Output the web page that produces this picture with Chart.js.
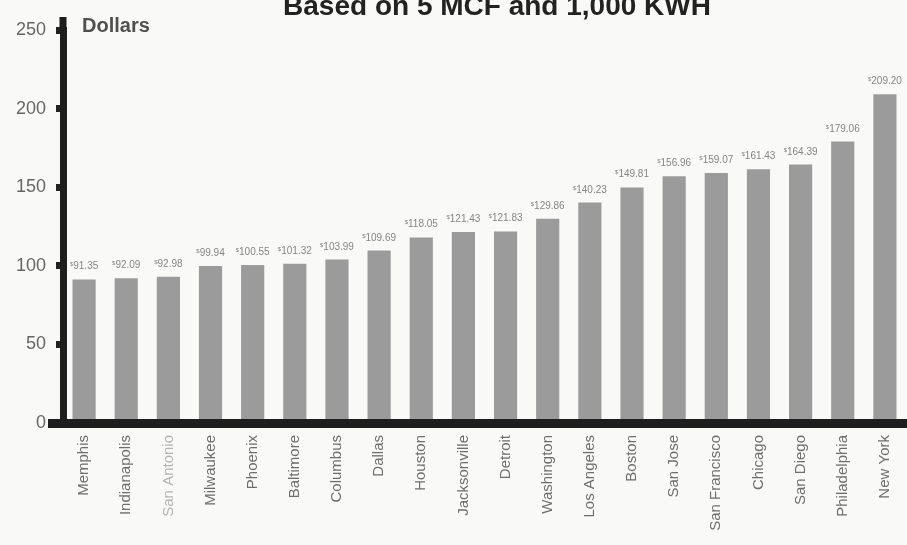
<!DOCTYPE html>
<html>
<head>
<meta charset="utf-8">
<script src="https://cdn.jsdelivr.net/npm/chart.js@4"></script>
<style>
    html, body { margin: 0; padding: 0; background: #f9f9f8; overflow: hidden; }
    canvas { display: block; }
</style>
</head>
<body>
<canvas id="CostChart" width="915" height="545"></canvas>
<script>
const city_labels = [
    'Memphis',
    'Indianapolis',
    'San Antonio',
    'Milwaukee',
    'Phoenix',
    'Baltimore',
    'Columbus',
    'Dallas',
    'Houston',
    'Jacksonville',
    'Detroit',
    'Washington',
    'Los Angeles',
    'Boston',
    'San Jose',
    'San Francisco',
    'Chicago',
    'San Diego',
    'Philadelphia',
    'New York'
];
const cost_values = [
    91.35, 92.09, 92.98, 99.94, 100.55, 101.32, 103.99, 109.69, 118.05, 121.43,
    121.83, 129.86, 140.23, 149.81, 156.96, 159.07, 161.43, 164.39, 179.06, 209.20
];
const y_ticks = [0, 50, 100, 150, 200, 250];

const title_text = 'Based on 5 MCF and 1,000 KWH';
const axis_title = 'Dollars';

// title, "Dollars", value labels and the bottom axis bar
const extras = {
    id: 'extras',
    afterDatasetsDraw(chart) {
        const ctx = chart.ctx;
        const area = chart.chartArea;
        const y0 = chart.scales.y.getPixelForValue(0);

        ctx.save();
        ctx.fillStyle = '#1e1e1e';
        // thick baseline, runs a bit left of the y axis
        ctx.fillRect(48, y0 - 4, chart.width - 48, 9);
        // y axis sticks out a little above the 250 tick
        ctx.fillRect(area.left - 3.5, 17, 7, area.top - 17);

        // value labels over bars
        const meta = chart.getDatasetMeta(0);
        ctx.fillStyle = '#858585';
        ctx.textBaseline = 'alphabetic';
        meta.data.forEach((bar, i) => {
            const num = cost_values[i].toFixed(2);
            ctx.font = '6px "Liberation Sans", Arial, sans-serif';
            const w0 = ctx.measureText('$').width;
            ctx.font = '10px "Liberation Sans", Arial, sans-serif';
            const w1 = ctx.measureText(num).width;
            const x = bar.x - (w0 + w1) / 2;
            const y = bar.y - 10;
            ctx.font = '6px "Liberation Sans", Arial, sans-serif';
            ctx.textAlign = 'left';
            ctx.fillText('$', x, y - 3);
            ctx.font = '10px "Liberation Sans", Arial, sans-serif';
            ctx.fillText(num, x + w0, y);
        });

        // titles
        ctx.fillStyle = '#222';
        ctx.font = 'bold 28px "Liberation Sans", Arial, sans-serif';
        ctx.textAlign = 'center';
        ctx.fillText(title_text, 497, 15);

        ctx.fillStyle = '#505050';
        ctx.font = 'bold 20px "Liberation Sans", Arial, sans-serif';
        ctx.textAlign = 'left';
        ctx.fillText(axis_title, 82, 32);
        ctx.restore();
    }
};

const bar_data = {
    labels: city_labels,
    datasets: [{
        label: 'Cost',
        data: cost_values,
        backgroundColor: '#9b9b9b',
        borderWidth: 0,
        categoryPercentage: 1.0,
        barPercentage: 0.55
    }]
};

const configBar = {
    type: 'bar',
    data: bar_data,
    options: {
        responsive: false,
        animation: false,
        layout: {
            padding: { top: 30, right: 4, left: 0, bottom: 0 }
        },
        plugins: {
            legend: { display: false },
            title: { display: false },
            tooltip: { enabled: false }
        },
        scales: {
            x: {
                grid: { display: false, drawTicks: false },
                border: { display: false },
                ticks: {
                    autoSkip: false,
                    minRotation: 90,
                    maxRotation: 90,
                    padding: 12,
                    font: { family: '"Liberation Sans", Arial, sans-serif', size: 15 },
                    color: (c) => c.index === 2 ? '#b4b4b4' : '#6e6e6e'
                },
                afterFit(scale) { scale.height = 122; }
            },
            y: {
                min: 0,
                max: 250,
                afterBuildTicks(scale) {
                    scale.ticks = y_ticks.map(v => ({ value: v }));
                },
                grid: {
                    drawOnChartArea: false,
                    drawTicks: true,
                    tickLength: 7,
                    tickWidth: 7,
                    tickColor: '#222'
                },
                border: { display: true, color: '#1e1e1e', width: 7 },
                ticks: {
                    padding: 10,
                    font: { family: '"Liberation Sans", Arial, sans-serif', size: 18 },
                    color: '#666'
                },
                afterFit(scale) { scale.width = 63; }
            }
        }
    },
    plugins: [extras]
};

const CostChart = new Chart(
    document.getElementById('CostChart'),
    configBar
);
</script>
</body>
</html>
